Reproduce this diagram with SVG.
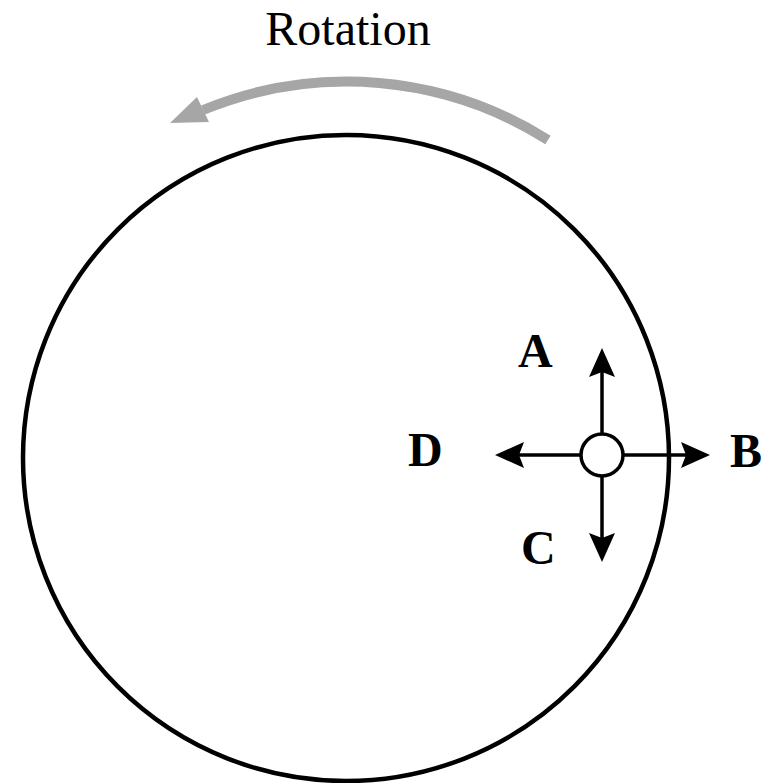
<svg xmlns="http://www.w3.org/2000/svg" width="769" height="783" viewBox="0 0 769 783">
<style>
.lbl{font-family:"Liberation Serif","Times New Roman",serif;font-weight:bold;font-size:48px;fill:#000}
.title{font-family:"Liberation Serif","Times New Roman",serif;font-size:48px;fill:#000}
.vec{stroke:#000;stroke-width:3.5;fill:none}
</style>
<defs>
<marker id="ah" markerUnits="userSpaceOnUse" markerWidth="40" markerHeight="30" viewBox="-10 -15 40 30" refX="0" refY="0" orient="auto" overflow="visible">
<path d="M20,0 L-9,-13 L-4,0 L-9,13 Z" fill="#000"/>
</marker>
</defs>
<rect width="769" height="783" fill="#fff"/>
<g id="title"><text class="title" x="348" y="45" text-anchor="middle">Rotation</text></g>
<g id="rotation-arrow">
<path d="M548,140 A377,377 0 0 0 203,110" fill="none" stroke="#a6a6a6" stroke-width="10"/>
<polygon points="170,123 197,97 209,122" fill="#a6a6a6"/>
</g>
<g id="disk"><circle cx="346" cy="458" r="323" fill="none" stroke="#000" stroke-width="4.5"/></g>
<g id="connectors">
<line class="vec" x1="602" y1="434" x2="602" y2="368" marker-end="url(#ah)"/>
<line class="vec" x1="602" y1="476" x2="602" y2="542" marker-end="url(#ah)"/>
<line class="vec" x1="581" y1="455" x2="515" y2="455" marker-end="url(#ah)"/>
<line class="vec" x1="623" y1="455" x2="690" y2="455" marker-end="url(#ah)"/>
</g>
<g id="particle"><circle cx="602" cy="455" r="21" fill="#fff" stroke="#000" stroke-width="3.5"/></g>
<g id="label-A"><text class="lbl" x="518" y="367">A</text></g>
<g id="label-B"><text class="lbl" x="730" y="467">B</text></g>
<g id="label-C"><text class="lbl" x="521" y="564">C</text></g>
<g id="label-D"><text class="lbl" x="408" y="466">D</text></g>
</svg>
